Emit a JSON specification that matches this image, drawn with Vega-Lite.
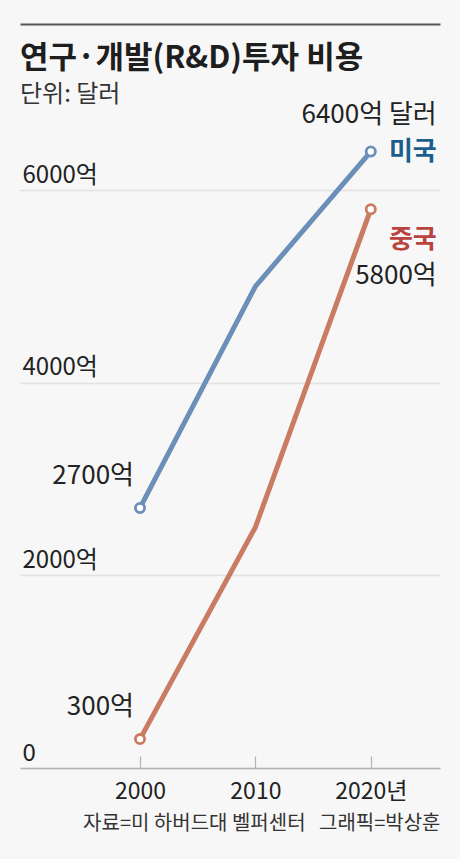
{
  "$schema": "https://vega.github.io/schema/vega-lite/v6.json",
  "autosize": {"type": "none"},
  "padding": {"left": 20, "top": 113, "right": 20, "bottom": 91},
  "width": 420,
  "height": 655,
  "background": "#f7f7f7",
  "title": {
    "text": "연구·개발(R&D)투자 비용",
    "subtitle": "단위: 달러",
    "anchor": "start",
    "frame": "group",
    "orient": "top",
    "offset": -84,
    "font": "Noto Sans CJK KR",
    "fontSize": 31,
    "fontWeight": "bold",
    "color": "#1e1e1e",
    "subtitleFont": "Noto Sans CJK KR",
    "subtitleFontSize": 24,
    "subtitleColor": "#333333",
    "subtitlePadding": 8
  },
  "data": {
    "values": [
      {"country": "미국", "year": 2000, "value": 2700},
      {"country": "미국", "year": 2010, "value": 5000},
      {"country": "미국", "year": 2020, "value": 6400},
      {"country": "중국", "year": 2000, "value": 300},
      {"country": "중국", "year": 2010, "value": 2500},
      {"country": "중국", "year": 2020, "value": 5800}
    ]
  },
  "transform": [
    {"calculate": "datum.value + '억'", "as": "amount"}
  ],
  "layer": [
    {
      "encoding": {
        "x": {
          "field": "year",
          "type": "quantitative",
          "scale": {"domain": [1989.6, 2026], "nice": false, "zero": false},
          "axis": {
            "orient": "bottom",
            "values": [2000, 2010, 2020],
            "labelExpr": "datum.value == 2020 ? '2020년' : '' + datum.value",
            "grid": false,
            "domain": true,
            "domainColor": "#b3b3b3",
            "domainWidth": 1.6,
            "ticks": true,
            "tickColor": "#b3b3b3",
            "tickWidth": 1.2,
            "tickSize": -12,
            "labelPadding": 24,
            "labelFont": "Noto Sans CJK KR",
            "labelFontSize": 23,
            "labelColor": "#222222",
            "title": "자료=미 하버드대 벨퍼센터\u00a0\u00a0\u00a0그래픽=박상훈",
            "titleAnchor": "end",
            "titleAlign": "right",
            "titleFont": "Noto Sans CJK KR",
            "titleFontSize": 20,
            "titleFontWeight": "normal",
            "titleColor": "#333333",
            "titlePadding": 10
          }
        },
        "y": {
          "field": "value",
          "type": "quantitative",
          "scale": {"domain": [0, 6800], "nice": false},
          "axis": {
            "orient": "left",
            "values": [0, 2000, 4000, 6000],
            "labelExpr": "datum.value == 0 ? '0' : datum.value + '억'",
            "domain": false,
            "ticks": false,
            "grid": true,
            "gridColor": "#e2e2e2",
            "gridWidth": 1.5,
            "labelAlign": "left",
            "labelBaseline": "alphabetic",
            "labelPadding": -2,
            "labelOffset": -8,
            "labelFont": "Noto Sans CJK KR",
            "labelFontSize": 24,
            "labelColor": "#222222",
            "title": null
          }
        }
      },
      "layer": [
        {
          "mark": {"type": "line", "strokeWidth": 5, "strokeCap": "round"},
          "encoding": {
            "color": {
              "field": "country",
              "type": "nominal",
              "scale": {"domain": ["미국", "중국"], "range": ["#6b8fb8", "#c97b63"]},
              "legend": null
            }
          }
        },
        {
          "transform": [{"filter": "datum.year != 2010"}],
          "mark": {"type": "point", "filled": false, "fill": "#ffffff", "fillOpacity": 1, "opacity": 1, "size": 85, "strokeWidth": 2.8},
          "encoding": {
            "color": {"field": "country", "type": "nominal", "legend": null}
          }
        },
        {
          "transform": [{"filter": "datum.year == 2000"}],
          "mark": {"type": "text", "align": "right", "baseline": "middle", "dx": -6, "dy": -32, "font": "Noto Sans CJK KR", "fontSize": 26, "color": "#222222"},
          "encoding": {"text": {"field": "amount"}}
        },
        {
          "transform": [{"filter": "datum.year == 2020 && datum.country == '미국'"}],
          "mark": {"type": "text", "align": "right", "baseline": "middle", "dx": 66, "dy": -37, "font": "Noto Sans CJK KR", "fontSize": 26, "color": "#222222"},
          "encoding": {"text": {"value": "6400억 달러"}}
        },
        {
          "transform": [{"filter": "datum.year == 2020 && datum.country == '미국'"}],
          "mark": {"type": "text", "align": "right", "baseline": "middle", "dx": 66, "dy": 0, "font": "Noto Sans CJK KR", "fontSize": 26, "fontWeight": "bold", "color": "#1b5e8c"},
          "encoding": {"text": {"field": "country"}}
        },
        {
          "transform": [{"filter": "datum.year == 2020 && datum.country == '중국'"}],
          "mark": {"type": "text", "align": "right", "baseline": "middle", "dx": 66, "dy": 31, "font": "Noto Sans CJK KR", "fontSize": 26, "fontWeight": "bold", "color": "#b8433f"},
          "encoding": {"text": {"field": "country"}}
        },
        {
          "transform": [{"filter": "datum.year == 2020 && datum.country == '중국'"}],
          "mark": {"type": "text", "align": "right", "baseline": "middle", "dx": 66, "dy": 67, "font": "Noto Sans CJK KR", "fontSize": 26, "color": "#222222"},
          "encoding": {"text": {"field": "amount"}}
        }
      ]
    },
    {
      "mark": {"type": "point", "opacity": 0},
      "encoding": {
        "x": {
          "field": "year",
          "type": "quantitative",
          "scale": {"domain": [1989.6, 2026], "nice": false, "zero": false},
          "axis": {
            "orient": "top",
            "offset": 89,
            "domain": true,
            "domainColor": "#555555",
            "domainWidth": 2,
            "ticks": false,
            "labels": false,
            "grid": false,
            "title": null
          }
        },
        "y": {"field": "value", "type": "quantitative"}
      }
    }
  ],
  "resolve": {"axis": {"x": "independent"}},
  "config": {
    "view": {"stroke": null}
  }
}
